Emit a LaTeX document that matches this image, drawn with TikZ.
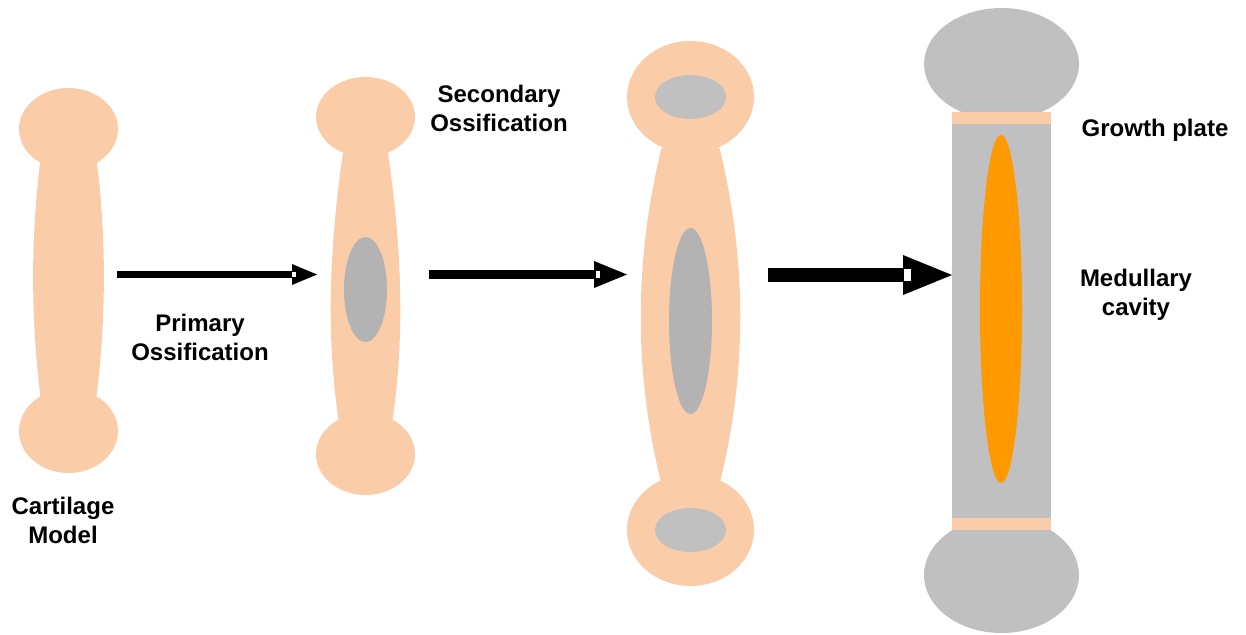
\documentclass[tikz,border=0pt]{standalone}
\usepackage{fontspec}
\setmainfont{Liberation Sans}
\usetikzlibrary{arrows.meta}

\providecommand{\OSpx}{0.5pt}
\providecommand{\OSlabel}{\fontsize{12}{14.5}\selectfont\bfseries}

\definecolor{cartilage}{RGB}{250,204,168}
\definecolor{spongy}{RGB}{179,179,179}
\definecolor{compact}{RGB}{192,192,192}
\definecolor{marrow}{RGB}{255,153,0}

\tikzset{
  cart/.style={fill=cartilage},
  ossi/.style={fill=spongy},
  bone/.style={fill=compact},
  cavity/.style={fill=marrow},
  lbl/.style={font=\OSlabel, align=center, inner sep=0pt},
  notch/.style={fill=white},
  growA/.style={draw=black, line width=3.5pt,
                -{Triangle[length=12.5pt, width=10.5pt, line width=0pt]}},
  growB/.style={draw=black, line width=4.5pt,
                -{Triangle[length=16.5pt, width=13.5pt, line width=0pt]}},
  growC/.style={draw=black, line width=7pt,
                -{Triangle[length=24.5pt, width=20pt, line width=0pt]}}
}

% shaft with bowed sides: centre x, top y, bottom y, top half width,
% bottom half width, bow
\newcommand{\boneshaft}[6]{%
  \fill[cart] ({#1-#4},#2)
    .. controls ({#1-#4-#6},{#2+(#3-#2)/3}) and ({#1-#5-#6},{#2+2*(#3-#2)/3})
    .. ({#1-#5},#3) -- ({#1+#5},#3)
    .. controls ({#1+#5+#6},{#2+2*(#3-#2)/3}) and ({#1+#4+#6},{#2+(#3-#2)/3})
    .. ({#1+#4},#2) -- cycle;}

\begin{document}
\begin{tikzpicture}[x=\OSpx, y=-\OSpx]

\useasboundingbox (0,0) rectangle (1246,634);

% Cartilage model
\fill[cart] (68.5,129) ellipse [x radius=49.5, y radius=41];
\fill[cart] (68.5,431) ellipse [x radius=49.5, y radius=42];
\boneshaft{68.5}{163}{397}{28.5}{28}{9.5}

% Primary centre
\fill[cart] (365.5,117) ellipse [x radius=49.5, y radius=40];
\fill[cart] (365.5,454) ellipse [x radius=49.5, y radius=41];
\boneshaft{365.5}{153}{420}{22.5}{27}{13}
\fill[ossi] (365.5,289.5) ellipse [x radius=21.5, y radius=52.5];

% Secondary centres in both ends
\foreach \hy in {97,530}{
  \fill[cart] (690.5,\hy) ellipse [x radius=63.5, y radius=56];
  \fill[bone] (690.5,\hy) ellipse [x radius=35.5, y radius=22];
}
\boneshaft{690.5}{148}{480}{29}{30}{27}
\fill[ossi] (690.5,321) ellipse [x radius=21.5, y radius=93];

% Mature bone
\fill[bone] (1001.5,64) ellipse [x radius=77.5, y radius=56];
\fill[bone] (1001.5,575) ellipse [x radius=77.5, y radius=58];
\fill[bone] (952,112) rectangle (1051,530);
\foreach \py in {112,518}{
  \fill[cart] (952,\py) rectangle (1051,\py+12);
}
\fill[cavity] (1001,309) ellipse [x radius=21, y radius=174];

% Labels
\node (cartlbl) [lbl] at (63,520) {Cartilage\\Model};
\node (primlbl) [lbl] at (200,337) {Primary\\Ossification};
\node (seclbl) [lbl] at (499,108) {Secondary\\Ossification};
\node (platelbl) [lbl] at (1155,130) {Growth plate};
\node (medlbl) [lbl] at (1136,294.5) {Medullary\\cavity};

% Arrow ends
\coordinate (aone) at (117,274.5);
\coordinate (bone) at (317,274.5);
\coordinate (atwo) at (429,274.5);
\coordinate (btwo) at (627,274.5);
\coordinate (athree) at (768,275);
\coordinate (bthree) at (952,275);

% Cartilage -> Primary
\draw[growA] (aone) -- (bone);
\fill[notch] ([shift={(-25,-2.5)}]bone) rectangle ([shift={(-21,2.5)}]bone);

% Primary -> Secondary
\draw[growB] (atwo) -- (btwo);
\fill[notch] ([shift={(-31,-3.5)}]btwo) rectangle ([shift={(-27,3.5)}]btwo);

% Secondary -> Mature
\draw[growC] (athree) -- (bthree);
\fill[notch] ([shift={(-48,-6)}]bthree) rectangle ([shift={(-41,6)}]bthree);

\end{tikzpicture}
\end{document}
